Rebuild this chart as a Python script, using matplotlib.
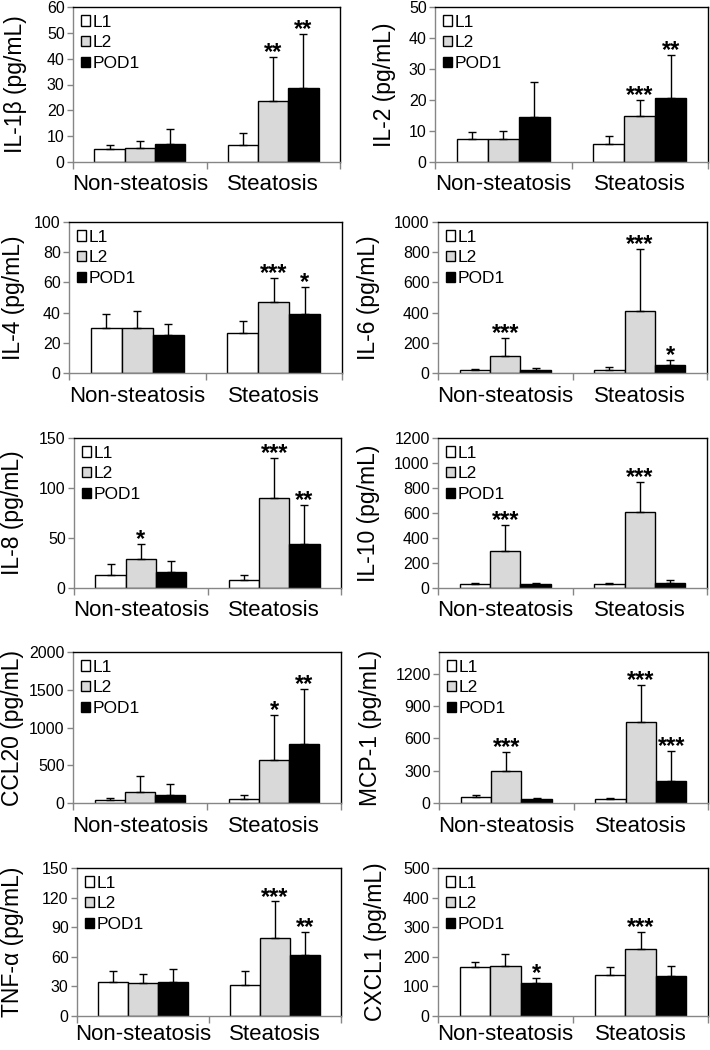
import matplotlib
matplotlib.use("Agg")
import matplotlib.pyplot as plt
from matplotlib.patches import Patch
import numpy as np

plt.rcParams['font.family'] = ['Liberation Sans', 'DejaVu Sans']

groups = ["Non-steatosis", "Steatosis"]
series = ["L1", "L2", "POD1"]
colors = ["white", "#d9d9d9", "black"]

# means: rows = groups, cols = series ; sd = upper error
il1b_mean = [[4.9, 5.4, 7.0], [6.45, 23.6, 28.8]]
il1b_sd = [[1.55, 2.6, 5.6], [4.65, 17.0, 20.7]]
il1b_sig = [["", "", ""], ["", "**", "**"]]

il2_mean = [[7.5, 7.5, 14.5], [5.8, 14.8, 20.6]]
il2_sd = [[2.2, 2.6, 11.4], [2.6, 5.2, 13.9]]
il2_sig = [["", "", ""], ["", "***", "**"]]

il4_mean = [[29.5, 29.5, 25.3], [26.2, 47.3, 39.3]]
il4_sd = [[9.8, 11.4, 7.0], [8.5, 15.8, 17.4]]
il4_sig = [["", "", ""], ["", "***", "*"]]

il6_mean = [[17, 115, 20], [18, 408, 53]]
il6_sd = [[10, 115, 15], [24, 411, 35]]
il6_sig = [["", "***", ""], ["", "***", "*"]]

il8_mean = [[13.4, 29.5, 16.1], [8.0, 90.4, 44.5]]
il8_sd = [[10.7, 14.7, 10.7], [5.1, 39.5, 38.5]]
il8_sig = [["", "*", ""], ["", "***", "**"]]

il10_mean = [[29, 300, 29], [29, 611, 40]]
il10_sd = [[8, 204, 8], [8, 238, 24]]
il10_sig = [["", "***", ""], ["", "***", ""]]

ccl20_mean = [[44, 141, 110], [57, 571, 787]]
ccl20_sd = [[26, 215, 140], [53, 598, 729]]
ccl20_sig = [["", "", ""], ["", "*", "**"]]

mcp1_mean = [[53, 300, 40], [37, 748, 201]]
mcp1_sd = [[24, 176, 9], [12, 350, 285]]
mcp1_sig = [["", "***", ""], ["", "***", "***"]]

tnfa_mean = [[34.6, 33.3, 34.6], [31.9, 78.8, 61.5]]
tnfa_sd = [[11.0, 9.6, 13.3], [13.7, 37.3, 24.0]]
tnfa_sig = [["", "", ""], ["", "***", "**"]]

cxcl1_mean = [[166, 169, 111], [138, 227, 135]]
cxcl1_sd = [[18, 41, 18], [27, 56, 34]]
cxcl1_sig = [["", "", "*"], ["", "***", ""]]

panels = [
    ("IL-1β (pg/mL)", il1b_mean, il1b_sd, il1b_sig, 60, np.arange(0, 61, 10)),
    ("IL-2 (pg/mL)", il2_mean, il2_sd, il2_sig, 50, np.arange(0, 51, 10)),
    ("IL-4 (pg/mL)", il4_mean, il4_sd, il4_sig, 100, np.arange(0, 101, 20)),
    ("IL-6 (pg/mL)", il6_mean, il6_sd, il6_sig, 1000, np.arange(0, 1001, 200)),
    ("IL-8 (pg/mL)", il8_mean, il8_sd, il8_sig, 150, np.arange(0, 151, 50)),
    ("IL-10 (pg/mL)", il10_mean, il10_sd, il10_sig, 1200, np.arange(0, 1201, 200)),
    ("CCL20 (pg/mL)", ccl20_mean, ccl20_sd, ccl20_sig, 2000, np.arange(0, 2001, 500)),
    ("MCP-1 (pg/mL)", mcp1_mean, mcp1_sd, mcp1_sig, 1400, np.arange(0, 1201, 300)),
    ("TNF-α (pg/mL)", tnfa_mean, tnfa_sd, tnfa_sig, 150, np.arange(0, 151, 30)),
    ("CXCL1 (pg/mL)", cxcl1_mean, cxcl1_sd, cxcl1_sig, 500, np.arange(0, 501, 100)),
]

# axes boxes in pixels: left, top, right, bottom ; ylabel center x
boxes = [
    (73, 7, 340, 162, 16), (435, 7, 708, 162, 384),
    (69, 222, 342, 373, 14), (438, 222, 707, 373, 369),
    (74, 438, 341, 588, 13), (438, 438, 707, 588, 369),
    (73, 652, 341, 803, 13), (439, 652, 708, 803, 371),
    (77, 868, 341, 1016, 13), (438, 868, 708, 1016, 376),
]

W, H = 710, 1050
fig = plt.figure(figsize=(W / 100, H / 100), dpi=100)

bw = 0.226
offsets = [-bw, 0, bw]
gray = "#868686"

for k, ((ylab, mean, sd, sig, ymax, yt), (l, t, r, b, lx)) in enumerate(zip(panels, boxes)):
    ax = fig.add_axes([l / W, 1 - b / H, (r - l) / W, (b - t) / H])
    mean = np.array(mean, dtype=float)
    sd = np.array(sd, dtype=float)
    x = np.arange(len(groups))
    for j in range(len(series)):
        ax.bar(x + offsets[j], mean[:, j], width=bw, color=colors[j],
               edgecolor="black", linewidth=1.0, zorder=2)
        ax.errorbar(x + offsets[j], mean[:, j],
                    yerr=[np.zeros(len(groups)), sd[:, j]],
                    fmt="none", ecolor="black", elinewidth=1.0,
                    capsize=3, capthick=1.0, zorder=3)
        for i in range(len(groups)):
            s = sig[i][j]
            if s:
                ax.annotate(s, (x[i] + offsets[j], mean[i, j] + sd[i, j]),
                            xytext=(0, -1.5), textcoords="offset points",
                            ha="center", va="baseline", fontsize=17,
                            fontweight="bold", zorder=4)
    ax.set_xlim(-0.5, 1.5)
    ax.set_ylim(0, ymax)
    ax.set_yticks(yt)
    ax.set_xticks([-0.5, 0.5, 1.5])
    ax.set_xticklabels([])
    ax.set_xticks(x, minor=True)
    ax.set_xticklabels(groups, minor=True, fontsize=16)
    ax.tick_params(axis="x", which="major", direction="out", length=5,
                   color=gray, width=1)
    ax.tick_params(axis="x", which="minor", length=0, pad=(6 if k >= 8 else 9))
    ax.tick_params(axis="y", direction="out", length=4, color=gray,
                   width=1, labelsize=11.5, pad=2)
    for side in ["left", "bottom"]:
        ax.spines[side].set_color(gray)
        ax.spines[side].set_linewidth(1)
    for side in ["top", "right"]:
        ax.spines[side].set_color("black")
        ax.spines[side].set_linewidth(1)
    ax.set_ylabel(ylab, fontsize=16.5, va="center")
    ax.yaxis.set_label_coords((lx - l) / (r - l), 0.5)
    handles = [Patch(facecolor=c, edgecolor="black", linewidth=1) for c in colors]
    ax.legend(handles, series, loc="upper left", frameon=False, fontsize=12.5,
              handlelength=0.55, handleheight=0.55, handletextpad=0.15,
              labelspacing=0.32, borderaxespad=0.2, borderpad=0.25)

fig.savefig("out.png", dpi=100)
